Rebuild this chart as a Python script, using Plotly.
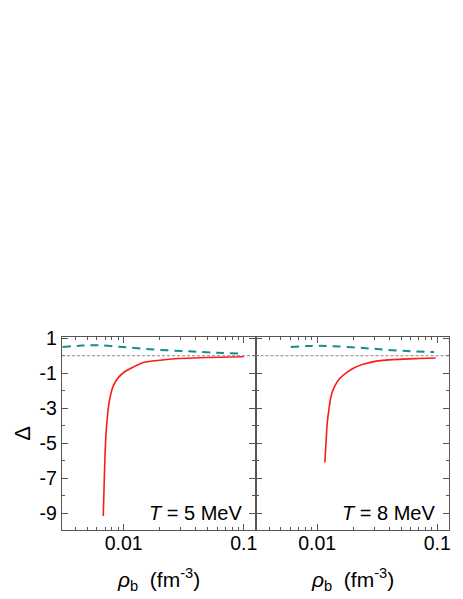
import plotly.graph_objects as go

# T = 5 MeV panel
t5_red_x = [0.00677, 0.00687, 0.00700, 0.00714, 0.00723, 0.00746, 0.00781, 0.00820, 0.00903,
            0.01027, 0.01205, 0.01459, 0.0239, 0.0484, 0.1]
t5_red_y = [-9.15, -7.53, -5.63, -4.40, -3.91, -2.96, -2.20, -1.72, -1.25,
            -0.90, -0.64, -0.39, -0.20, -0.10, -0.06]
t5_teal_x = [0.0031, 0.0045, 0.006, 0.0098, 0.0186, 0.0351, 0.06, 0.092]
t5_teal_y = [0.50, 0.58, 0.60, 0.50, 0.35, 0.25, 0.17, 0.12]

# T = 8 MeV panel
t8_red_x = [0.01159, 0.01180, 0.01198, 0.01211, 0.01259, 0.01318, 0.01404, 0.01546, 0.01758,
            0.0206, 0.02416, 0.03027, 0.0459, 0.07, 0.097]
t8_red_y = [-6.10, -5.20, -4.45, -3.91, -2.96, -2.20, -1.72, -1.29, -0.96,
            -0.67, -0.49, -0.32, -0.21, -0.16, -0.13]
t8_teal_x = [0.00604, 0.0085, 0.01277, 0.0242, 0.0459, 0.094]
t8_teal_y = [0.50, 0.56, 0.55, 0.44, 0.30, 0.21]

x_ticks = [0.01, 0.1]
x_ticktext = ["0.01", "0.1"]
y_ticks = [1, -1, -3, -5, -7, -9]
y_ticktext = ["1", "-1", "-3", "-5", "-7", "-9"]
labels = ["<i>T</i> = 5 MeV", "<i>T</i> = 8 MeV"]

RED = "#ff1a1a"
TEAL = "#168c8c"
AX = "#555555"
FONT = "Liberation Sans, Arial, sans-serif"

x_minor = [m * 10 ** e for e in (-3, -2, -1) for m in range(2, 10) if 0.003 <= m * 10 ** e <= 0.13]

fig = go.Figure()

panels = [
    (t5_red_x, t5_red_y, t5_teal_x, t5_teal_y, "x", "y"),
    (t8_red_x, t8_red_y, t8_teal_x, t8_teal_y, "x2", "y2"),
]
for rx, ry, tx, ty, xa, ya in panels:
    fig.add_trace(go.Scatter(x=tx, y=ty, mode="lines", xaxis=xa, yaxis=ya,
                             line=dict(color=TEAL, width=2, dash="8px,6px", shape="spline"),
                             showlegend=False))
    fig.add_trace(go.Scatter(x=rx, y=ry, mode="lines", xaxis=xa, yaxis=ya,
                             line=dict(color=RED, width=1.6, shape="spline", smoothing=0.6),
                             showlegend=False))

xcommon = dict(
    type="log", range=[-2.513, -0.9025], tickvals=x_ticks, ticktext=x_ticktext,
    ticks="inside", ticklen=6, tickcolor=AX, showline=True, linecolor=AX, linewidth=1.3,
    mirror="allticks", showgrid=False, zeroline=False, automargin=False,
    ticklabelstandoff=-5,
    minor=dict(tickvals=x_minor, ticks="inside", ticklen=3, tickcolor=AX, showgrid=False),
    tickfont=dict(family=FONT, size=19.5, color="black"),
)
ycommon = dict(
    range=[-9.95, 1.07], tickvals=y_ticks, ticktext=y_ticktext, ticks="inside", ticklen=6,
    tickcolor=AX, showline=True, linecolor=AX, linewidth=1.3, mirror="allticks",
    showgrid=False, zeroline=False, automargin=False,
    minor=dict(dtick=1, tick0=0, ticks="inside", ticklen=3, tickcolor=AX, showgrid=False),
    tickfont=dict(family=FONT, size=19.5, color="black"),
)

# the page body has an 8px margin, so the figure is sized to fit beside it
fig.update_layout(
    width=455, height=591,
    paper_bgcolor="white", plot_bgcolor="white",
    margin=dict(l=54, r=14, t=329, b=69),
    xaxis=dict(xcommon, domain=[0, 0.5], anchor="y"),
    xaxis2=dict(xcommon, domain=[0.5, 1], anchor="y2"),
    yaxis=dict(ycommon, anchor="x"),
    yaxis2=dict(ycommon, anchor="x2", showticklabels=False),
)

# axis titles
fig.add_annotation(text="Δ", xref="paper", yref="paper", x=-0.103, y=0.5,
                   xanchor="center", yanchor="middle", textangle=-90, showarrow=False,
                   font=dict(family=FONT, size=22, color="black"))
for xa, xc in [("x", 0.25), ("x2", 0.75)]:
    fig.add_annotation(text="<i>ρ</i><sub>b</sub>  (fm<sup>-3</sup>)", xref="paper", yref="paper",
                       x=xc, y=-0.255, xanchor="center", yanchor="middle", showarrow=False,
                       font=dict(family=FONT, size=21, color="black"))

for i, (xa, ya) in enumerate([("x", "y"), ("x2", "y2")]):
    fig.add_shape(type="line", xref=f"{xa} domain", yref=ya, x0=0, x1=1, y0=0, y1=0,
                  line=dict(color="#888888", width=1, dash="3px,2px"))
    fig.add_annotation(text=labels[i], xref=f"{xa} domain", yref=ya, x=0.94, y=-9,
                       xanchor="right", yanchor="middle", showarrow=False,
                       font=dict(family=FONT, size=20, color="black"))

fig.write_html("out.html")
